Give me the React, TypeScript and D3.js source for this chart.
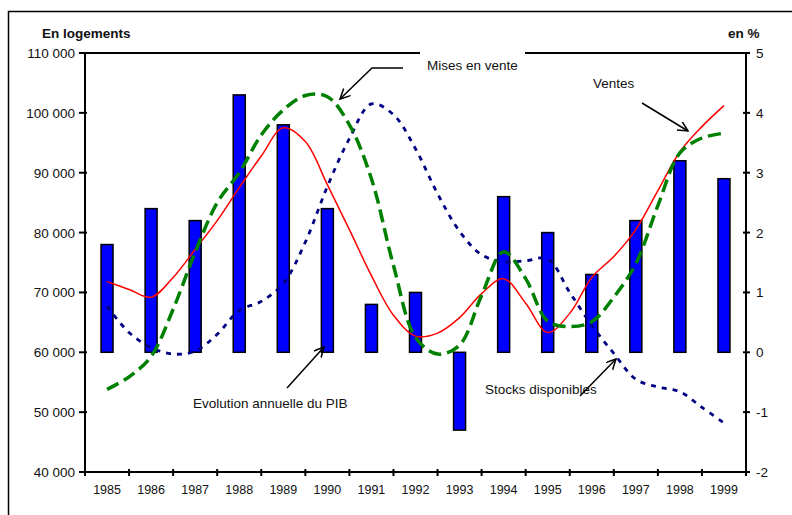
import React from 'react';
import * as d3 from 'd3';

// années (axe des x)
const years = [1985, 1986, 1987, 1988, 1989, 1990, 1991, 1992, 1993, 1994, 1995, 1996, 1997, 1998, 1999];
// évolution annuelle du PIB, en %
const pib = [1.8, 2.4, 2.2, 4.3, 3.8, 2.4, 0.8, 1.0, -1.3, 2.6, 2.0, 1.3, 2.2, 3.2, 2.9];

// points semestriels des courbes
const semesters = [
  1985, 1985.5, 1986, 1986.5, 1987, 1987.5, 1988, 1988.5, 1989, 1989.5,
  1990, 1990.5, 1991, 1991.5, 1992, 1992.5, 1993, 1993.5, 1994, 1994.5,
  1995, 1995.5, 1996, 1996.5, 1997, 1997.5, 1998, 1998.5, 1999,
];
// en logements
const ventes = [
  71800, 70500, 69200, 72500, 77200, 82000, 87500, 92800, 97500, 95200,
  88000, 80500, 72800, 66200, 62700, 63200, 65800, 69800, 72300, 68200,
  63300, 66500, 72500, 76000, 80500, 87000, 93500, 97700, 101200,
];
const misesEnVente = [
  53800, 55900, 59300, 67200, 76700, 85000, 90000, 96300, 100500, 102900,
  102700, 98000, 89000, 74500, 62500, 59700, 61200, 69500, 76800, 72300,
  65200, 64300, 65100, 69200, 74800, 84500, 93300, 95800, 96600,
];
const stocks = [
  67700, 63300, 60800, 59700, 60200, 63000, 67000, 68500, 71500, 78400,
  87700, 95700, 101500, 99700, 94000, 86500, 80200, 76300, 75100, 75300,
  75600, 70000, 64500, 59800, 55500, 54200, 53400, 50800, 48200,
];

const leftTicks = [40000, 50000, 60000, 70000, 80000, 90000, 100000, 110000];
const rightTicks = [-2, -1, 0, 1, 2, 3, 4, 5];

const W = 792;
const H = 515;
const left = 85;
const right = 746;
const top = 53;
const bottom = 472;
const font = '"Liberation Sans", Arial, sans-serif';

const App = () => {
  const xBand = d3.scaleBand<number>().domain(years).range([left, right]);
  const xLin = d3.scaleLinear().domain([1984.5, 1999.5]).range([left, right]);
  const yL = d3.scaleLinear().domain([40000, 110000]).range([bottom, top]);
  const yR = d3.scaleLinear().domain([-2, 5]).range([bottom, top]);
  const fmt = (v: number) => d3.format(',')(v).replace(/,/g, ' ');

  const line = d3
    .line<number>()
    .x((_, i) => xLin(semesters[i]))
    .y((d) => yL(d))
    .curve(d3.curveCatmullRom.alpha(0.5));

  const bw = 12;

  return (
    <svg width={W} height={H} style={{ position: 'absolute', left: 0, top: 0, display: 'block', background: '#fff' }} fontFamily={font}>
      <defs>
        <marker id="arr" markerWidth="12" markerHeight="12" refX="10" refY="5" orient="auto" markerUnits="userSpaceOnUse">
          <path d="M0,0 L10,5 L0,10" fill="none" stroke="#000" strokeWidth={1.5} />
        </marker>
      </defs>
      {/* cadre extérieur */}
      <rect x={8.5} y={11.5} width={820} height={540} fill="none" stroke="#000" strokeWidth={1.5} />

      {/* barres PIB */}
      {pib.map((v, i) => (
        <rect
          key={years[i]}
          x={xBand(years[i])! + xBand.bandwidth() / 2 - bw / 2}
          y={Math.min(yR(v), yR(0))}
          width={bw}
          height={Math.abs(yR(v) - yR(0))}
          fill="#0000ff"
          stroke="#000"
          strokeWidth={1.5}
        />
      ))}

      {/* courbes */}
      <path d={line(stocks)!} fill="none" stroke="#000080" strokeWidth={2.8} strokeDasharray="5 6" />
      <path d={line(ventes)!} fill="none" stroke="#ff0000" strokeWidth={1.5} />
      <path d={line(misesEnVente)!} fill="none" stroke="#008000" strokeWidth={3.5} strokeDasharray="13 6" />

      {/* axes */}
      <line x1={left} x2={right} y1={top} y2={top} stroke="#000" strokeWidth={2} />
      <line x1={left} x2={left} y1={top} y2={bottom} stroke="#000" strokeWidth={2} />
      <line x1={right} x2={right} y1={top} y2={bottom} stroke="#000" strokeWidth={2} />
      <line x1={left} x2={right} y1={bottom} y2={bottom} stroke="#000" strokeWidth={2} />

      {leftTicks.map((t) => (
        <g key={t}>
          <line x1={left - 6} x2={left + 2} y1={yL(t)} y2={yL(t)} stroke="#000" strokeWidth={2} />
          <text x={75} y={yL(t) + 5} textAnchor="end" fontSize={13.5} fill="#111">{fmt(t)}</text>
        </g>
      ))}
      {rightTicks.map((t) => (
        <g key={t}>
          <line x1={right - 3} x2={right + 4} y1={yR(t)} y2={yR(t)} stroke="#000" strokeWidth={2} />
          <text x={756} y={yR(t) + 5} fontSize={13.5} fill="#111">{t}</text>
        </g>
      ))}
      {years.map((y, i) => (
        <g key={y}>
          <line x1={left + i * xBand.step()} x2={left + i * xBand.step()} y1={bottom - 3} y2={bottom + 4} stroke="#000" strokeWidth={2} />
          <text x={xBand(y)! + xBand.bandwidth() / 2} y={494} textAnchor="middle" fontSize={12.5} fill="#111">{y}</text>
        </g>
      ))}
      <line x1={right} x2={right} y1={bottom - 3} y2={bottom + 4} stroke="#000" strokeWidth={2} />

      <text x={42} y={38} fontSize={13.5} fontWeight="bold" fill="#111">En logements</text>
      <text x={728} y={38} fontSize={13.5} fontWeight="bold" fill="#111">en %</text>

      {/* annotations */}
      <rect x={420} y={46} width={105} height={20} fill="#fff" />
      <text x={427} y={70} fontSize={13.5} fill="#111">Mises en  vente</text>
      <polyline points="403,68 372,68 340,99" fill="none" stroke="#000" strokeWidth={1.5} markerEnd="url(#arr)" />

      <text x={593} y={88} fontSize={13.5} fill="#111">Ventes</text>
      <line x1={642} y1={103} x2={688} y2={131} stroke="#000" strokeWidth={1.5} markerEnd="url(#arr)" />

      <text x={193} y={408} fontSize={13.5} fill="#111">Evolution annuelle du PIB</text>
      <line x1={287} y1={388} x2={324} y2={347} stroke="#000" strokeWidth={1.5} markerEnd="url(#arr)" />

      <text x={485} y={394} fontSize={13.5} fill="#111">Stocks disponibles</text>
      <line x1={580} y1={396} x2={616} y2={359} stroke="#000" strokeWidth={1.5} markerEnd="url(#arr)" />
    </svg>
  );
};

export default App;
